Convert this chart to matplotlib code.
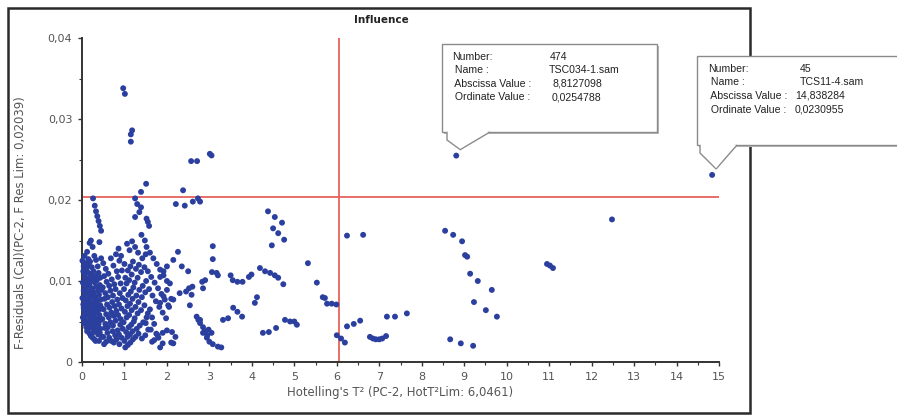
import matplotlib
matplotlib.use("Agg")
import matplotlib.pyplot as plt
from matplotlib.patches import Rectangle, Polygon
from matplotlib.ticker import MultipleLocator
import matplotlib.transforms as mtransforms

W, H = 897, 417

# ---------------- data ----------------
title = "Influence"
x_label = "Hotelling's T\u00b2 (PC-2, HotT\u00b2Lim: 6,0461)"
y_label = "F-Residuals (Cal)(PC-2, F Res Lim: 0,02039)"
hot_lim = 6.0461
fres_lim = 0.02039

# dense block near T2 = 0 .. 0.45
dense_left_x = [0.01, 0.03, 0.02, 0.04, 0.01, 0.03, 0.05, 0.02,
                0.06, 0.04, 0.07, 0.05, 0.08, 0.06, 0.04, 0.07, 0.05,
                0.09, 0.07, 0.10, 0.08, 0.06, 0.09, 0.11, 0.08, 0.10,
                0.12, 0.10, 0.13, 0.11, 0.14, 0.12, 0.10, 0.13, 0.11, 0.12,
                0.15, 0.13, 0.16, 0.14, 0.17, 0.15, 0.13, 0.16, 0.14,
                0.18, 0.16, 0.19, 0.17, 0.20, 0.18, 0.16, 0.19, 0.17, 0.18,
                0.21, 0.19, 0.22, 0.20, 0.23, 0.21, 0.19, 0.22, 0.20, 0.21,
                0.25, 0.23, 0.26, 0.24, 0.27, 0.25, 0.23, 0.26, 0.24, 0.25,
                0.29, 0.27, 0.30, 0.28, 0.31, 0.29, 0.27, 0.30, 0.28, 0.29,
                0.33, 0.31, 0.34, 0.32, 0.35, 0.33, 0.31, 0.34, 0.32,
                0.37, 0.35, 0.38, 0.36, 0.39, 0.37, 0.35, 0.38,
                0.41, 0.39, 0.42, 0.40, 0.43, 0.41, 0.39, 0.42, 0.40,
                0.45, 0.43, 0.46, 0.44, 0.47, 0.45, 0.43, 0.46]
dense_left_y = [0.0125, 0.0112, 0.0098, 0.0088, 0.0079, 0.0071, 0.0063, 0.0055,
                0.0131, 0.0118, 0.0104, 0.0094, 0.0085, 0.0076, 0.0067, 0.0059, 0.0048,
                0.0122, 0.0108, 0.0099, 0.0090, 0.0081, 0.0072, 0.0064, 0.0052, 0.0043,
                0.0136, 0.0115, 0.0102, 0.0093, 0.0084, 0.0075, 0.0068, 0.0058, 0.0046, 0.0038,
                0.0127, 0.0111, 0.0097, 0.0087, 0.0078, 0.0069, 0.0061, 0.0050, 0.0040,
                0.0147, 0.0119, 0.0105, 0.0095, 0.0083, 0.0074, 0.0066, 0.0056, 0.0045, 0.0035,
                0.0150, 0.0124, 0.0109, 0.0100, 0.0089, 0.0079, 0.0070, 0.0060, 0.0049, 0.0032,
                0.0142, 0.0117, 0.0103, 0.0091, 0.0082, 0.0072, 0.0063, 0.0053, 0.0042, 0.0030,
                0.0131, 0.0112, 0.0098, 0.0086, 0.0076, 0.0067, 0.0057, 0.0047, 0.0037, 0.0028,
                0.0126, 0.0106, 0.0093, 0.0080, 0.0070, 0.0061, 0.0051, 0.0040, 0.0026,
                0.0118, 0.0101, 0.0088, 0.0075, 0.0064, 0.0054, 0.0044, 0.0034,
                0.0148, 0.0110, 0.0095, 0.0083, 0.0070, 0.0058, 0.0047, 0.0036, 0.0026,
                0.0128, 0.0104, 0.0089, 0.0077, 0.0066, 0.0052, 0.0041, 0.0031]

# descending streak near the F-limit at the left
streak_left_x = [0.26, 0.30, 0.33, 0.36, 0.39, 0.42, 0.45]
streak_left_y = [0.0202, 0.0193, 0.0186, 0.0180, 0.0174, 0.0168, 0.0162]

# block T2 = 0.5 .. 0.95
mid_left_x = [0.50, 0.52, 0.49, 0.53, 0.51, 0.48, 0.54, 0.50, 0.52,
              0.56, 0.58, 0.55, 0.59, 0.57, 0.55, 0.60, 0.57,
              0.62, 0.64, 0.61, 0.65, 0.63, 0.61, 0.64,
              0.68, 0.70, 0.67, 0.71, 0.69, 0.67, 0.72, 0.69,
              0.74, 0.76, 0.73, 0.77, 0.75, 0.73, 0.78, 0.75,
              0.80, 0.82, 0.79, 0.83, 0.81, 0.79, 0.84, 0.81,
              0.86, 0.88, 0.85, 0.89, 0.87, 0.85, 0.90, 0.87, 0.88,
              0.92, 0.94, 0.91, 0.95, 0.93, 0.91, 0.96, 0.93]
mid_left_y = [0.0122, 0.0106, 0.0092, 0.0078, 0.0065, 0.0053, 0.0042, 0.0031, 0.0022,
              0.0115, 0.0099, 0.0085, 0.0071, 0.0059, 0.0047, 0.0036, 0.0025,
              0.0109, 0.0094, 0.0080, 0.0067, 0.0055, 0.0043, 0.0030,
              0.0128, 0.0102, 0.0088, 0.0074, 0.0061, 0.0049, 0.0038, 0.0026,
              0.0119, 0.0096, 0.0082, 0.0069, 0.0057, 0.0045, 0.0033, 0.0024,
              0.0133, 0.0112, 0.0090, 0.0077, 0.0063, 0.0051, 0.0039, 0.0028,
              0.0140, 0.0125, 0.0105, 0.0085, 0.0071, 0.0058, 0.0046, 0.0034, 0.0022,
              0.0131, 0.0113, 0.0097, 0.0079, 0.0066, 0.0053, 0.0041, 0.0030]

# block T2 = 1.0 .. 1.5
block_one_x = [1.00, 1.02, 0.99, 1.03, 1.01, 0.98, 1.04, 1.00, 1.02,
               1.06, 1.08, 1.05, 1.09, 1.07, 1.05, 1.10, 1.07, 1.08,
               1.12, 1.14, 1.11, 1.15, 1.13, 1.11, 1.16, 1.13, 1.14,
               1.18, 1.20, 1.17, 1.21, 1.19, 1.17, 1.22, 1.19, 1.20,
               1.25, 1.27, 1.24, 1.28, 1.26, 1.24, 1.29, 1.26,
               1.32, 1.34, 1.31, 1.35, 1.33, 1.31, 1.36, 1.33,
               1.40, 1.42, 1.39, 1.43, 1.41, 1.39, 1.44, 1.41,
               1.48, 1.50, 1.47, 1.51, 1.49, 1.47, 1.52, 1.49]
block_one_y = [0.0121, 0.0104, 0.0090, 0.0076, 0.0062, 0.0049, 0.0037, 0.0026, 0.0018,
               0.0146, 0.0113, 0.0097, 0.0083, 0.0069, 0.0055, 0.0043, 0.0031, 0.0021,
               0.0138, 0.0118, 0.0101, 0.0087, 0.0072, 0.0058, 0.0046, 0.0034, 0.0024,
               0.0149, 0.0124, 0.0108, 0.0092, 0.0078, 0.0064, 0.0050, 0.0038, 0.0028,
               0.0142, 0.0115, 0.0098, 0.0082, 0.0068, 0.0054, 0.0041, 0.0031,
               0.0135, 0.0120, 0.0104, 0.0089, 0.0074, 0.0060, 0.0045, 0.0035,
               0.0157, 0.0128, 0.0111, 0.0094, 0.0080, 0.0064, 0.0049, 0.0029,
               0.0150, 0.0133, 0.0117, 0.0100, 0.0086, 0.0070, 0.0055, 0.0033]

# points close to the F-limit around T2 = 1.2 .. 1.6
near_limit_x = [1.25, 1.30, 1.35, 1.39, 1.51, 1.39, 1.25, 1.52, 1.55, 1.58]
near_limit_y = [0.0202, 0.0195, 0.0185, 0.0210, 0.0220, 0.0191, 0.0179, 0.0177, 0.0173, 0.0168]

# diagonal streaks T2 = 1.5 .. 2.7
streaks_x = [1.52, 1.60, 1.68, 1.76, 1.84, 1.92, 2.00,
             1.55, 1.63, 1.71, 1.79, 1.87, 1.95, 2.03,
             1.58, 1.66, 1.74, 1.82, 1.90, 1.98,
             1.60, 1.65, 1.70, 1.62, 1.75, 1.70, 1.80, 1.65, 1.78, 1.55, 1.50, 1.56,
             2.15, 2.26, 2.00, 1.92, 1.84, 2.07, 2.00, 1.92, 1.84, 2.10,
             2.30, 2.45, 2.60, 2.52, 2.15, 2.05, 2.35, 2.50,
             1.90, 2.00, 2.12, 2.20, 2.15, 2.10, 1.90, 1.84]
streaks_y = [0.0142, 0.0135, 0.0128, 0.0121, 0.0114, 0.0107, 0.0100,
             0.0112, 0.0105, 0.0098, 0.0091, 0.0084, 0.0077, 0.0070,
             0.0090, 0.0082, 0.0075, 0.0068, 0.0061, 0.0054,
             0.0065, 0.0055, 0.0047, 0.0040, 0.0035, 0.0027, 0.0030, 0.0025, 0.0033, 0.0060, 0.0048, 0.0040,
             0.0126, 0.0136, 0.0118, 0.0112, 0.0105, 0.0097, 0.0089, 0.0081, 0.0073, 0.0078,
             0.0085, 0.0087, 0.0093, 0.0091, 0.0077, 0.0068, 0.0118, 0.0112,
             0.0036, 0.0039, 0.0037, 0.0031, 0.0023, 0.0024, 0.0023, 0.0018]

# T2 = 2.5 .. 5.1
middle_x = [2.54, 2.58, 2.70, 2.74, 2.78, 2.83, 2.90, 2.85,
            2.78, 2.85, 2.90, 2.98, 3.05, 2.95,
            2.85, 2.94, 3.00, 3.08, 3.20, 3.28,
            3.08, 3.08, 3.17, 3.06, 3.20,
            3.32, 3.44, 3.56, 3.66, 3.77,
            3.50, 3.55, 3.66, 3.78, 3.93, 3.99,
            4.19, 4.31, 4.43, 4.54, 4.62, 4.74,
            4.12, 4.07, 4.26, 4.40, 4.57,
            4.78, 4.90, 5.00, 5.06,
            4.38, 4.54, 4.71, 4.50, 4.62, 4.76, 4.47]
middle_y = [0.0070, 0.0083, 0.0056, 0.0052, 0.0048, 0.0099, 0.0101, 0.0091,
            0.0052, 0.0043, 0.0038, 0.0040, 0.0036, 0.0033,
            0.0036, 0.0030, 0.0025, 0.0022, 0.0019, 0.0018,
            0.0143, 0.0127, 0.0110, 0.0111, 0.0107,
            0.0052, 0.0054, 0.0067, 0.0062, 0.0056,
            0.0107, 0.0101, 0.0099, 0.0099, 0.0105, 0.0108,
            0.0116, 0.0112, 0.0110, 0.0107, 0.0104, 0.0096,
            0.0080, 0.0073, 0.0036, 0.0037, 0.0042,
            0.0052, 0.0050, 0.0050, 0.0046,
            0.0186, 0.0179, 0.0172, 0.0165, 0.0159, 0.0151, 0.0144]

# T2 = 5.3 .. 12.5
right_x = [5.32, 5.53, 5.67, 5.72, 5.77, 5.88, 5.99,
           6.00, 6.10, 6.19, 6.24, 6.62, 6.24, 6.40, 6.55,
           6.78, 6.85, 6.92, 7.00, 7.07, 7.16, 7.18, 7.37, 7.65,
           8.55, 8.74, 8.95, 9.02, 9.07, 9.14, 9.32, 9.65, 9.23, 9.51, 9.77,
           8.67, 8.92, 9.21, 10.95, 11.02, 11.09, 12.48]
right_y = [0.0122, 0.0098, 0.0080, 0.0079, 0.0072, 0.0072, 0.0071,
           0.0033, 0.0029, 0.0024, 0.0156, 0.0157, 0.0044, 0.0047, 0.0051,
           0.0031, 0.0029, 0.0028, 0.0028, 0.0029, 0.0032, 0.0056, 0.0056, 0.0060,
           0.0162, 0.0157, 0.0149, 0.0132, 0.0130, 0.0109, 0.0100, 0.0089, 0.0074, 0.0064, 0.0056,
           0.0028, 0.0023, 0.0020, 0.0121, 0.0119, 0.0116, 0.0176]

# points above the F-limit (left part)
upper_x = [0.97, 1.01, 1.18, 1.15, 1.15, 2.57, 2.71, 3.01, 3.05,
           2.78, 2.21, 2.38, 2.42, 2.61, 2.73]
upper_y = [0.0338, 0.0331, 0.0286, 0.0281, 0.0272, 0.0248, 0.0248, 0.0257, 0.0255,
           0.0198, 0.0195, 0.0212, 0.0193, 0.0198, 0.0202]

# highlighted samples with tooltips
tip_numbers = ["474", "45"]
tip_names = ["TSC034-1.sam", "TCS11-4.sam"]
tip_x = [8.8127098, 14.838284]
tip_y = [0.0254788, 0.0230955]
tip_x_text = ["8,8127098", "14,838284"]
tip_y_text = ["0,0254788", "0,0230955"]

x_ticks = list(range(0, 16))
y_ticks = [0, 0.01, 0.02, 0.03, 0.04]
y_tick_labels = ["0", "0,01", "0,02", "0,03", "0,04"]

# ---------------- figure ----------------
fig = plt.figure(figsize=(W / 100, H / 100), dpi=100)
fig.patch.set_facecolor("white")
px = mtransforms.Affine2D().scale(1 / W, -1 / H).translate(0, 1) + fig.transFigure

# window frame
fig.add_artist(Rectangle((8, 8), 742, 405, transform=px, fill=False,
                         edgecolor="#2a2a2a", linewidth=1.8, zorder=1))

ax = fig.add_axes([82 / W, 1 - 362 / H, (719 - 82) / W, (362 - 38) / H])
ax.set_xlim(0, 15)
ax.set_ylim(0, 0.04)
for s in ("top", "right"):
    ax.spines[s].set_visible(False)
for s in ("left", "bottom"):
    ax.spines[s].set_color("#333333")
    ax.spines[s].set_linewidth(1.4)

ax.set_xticks(x_ticks)
ax.set_yticks(y_ticks)
ax.set_yticklabels(y_tick_labels)
ax.xaxis.set_minor_locator(MultipleLocator(0.5))
ax.yaxis.set_minor_locator(MultipleLocator(0.005))
ax.tick_params(which="major", direction="out", length=3, width=1, color="#333333",
               labelsize=8, labelcolor="#555555", pad=4)
ax.tick_params(which="minor", direction="out", length=2, width=0.8, color="#333333")

ax.axvline(hot_lim, color="#e8625c", linewidth=1.3, zorder=2)
ax.axhline(fres_lim, color="#e8625c", linewidth=1.3, zorder=2)

all_x = (dense_left_x + streak_left_x + mid_left_x + block_one_x + near_limit_x +
         streaks_x + middle_x + right_x + upper_x + tip_x)
all_y = (dense_left_y + streak_left_y + mid_left_y + block_one_y + near_limit_y +
         streaks_y + middle_y + right_y + upper_y + tip_y)
ax.scatter(all_x, all_y, s=18, color="#2b3f9e", edgecolors="none", zorder=3, clip_on=False)

ax.set_xlabel(x_label, fontsize=8.4, color="#555555", labelpad=3)
ax.set_ylabel(y_label, fontsize=8.4, color="#555555")
ax.yaxis.set_label_coords(-0.086, 0.43)

fig.text(381 / W, 1 - 20 / H, title, fontsize=7.5, fontweight="bold",
         ha="center", va="center", color="#222222")

# ---------------- tooltips ----------------
TIP_FONT = ["Liberation Sans", "DejaVu Sans"]


def tooltip(box, tail_base, i, label_x, value_x, row_y):
    x0, y0, x1, y1 = box
    tipx, tipy = ax.transData.transform((tip_x[i], tip_y[i]))
    tipy = H - tipy
    fig.add_artist(Rectangle((x0 + 2, y0 + 2), x1 - x0, y1 - y0, transform=px,
                             facecolor="#b8b8b8", edgecolor="none", zorder=5))
    fig.add_artist(Rectangle((x0, y0), x1 - x0, y1 - y0, transform=px,
                             facecolor="white", edgecolor="#8a8a8a", linewidth=1.0, zorder=6))
    a, b = tail_base
    fig.add_artist(Polygon([(a, y1), (a, y1 + 8), (tipx + 4, tipy - 6), (b, y1)], closed=False,
                           transform=px, facecolor="white", edgecolor="#8a8a8a",
                           linewidth=1.0, zorder=6))
    fig.add_artist(Polygon([(a + 1, y1 - 1), (a + 1, y1 + 7), (tipx + 4, tipy - 7), (b - 2, y1 - 1)],
                           transform=px, facecolor="white", edgecolor="none", zorder=6.5))
    labels = ["Number:", " Name :", " Abscissa Value :", " Ordinate Value :"]
    values = [tip_numbers[i], tip_names[i], tip_x_text[i], tip_y_text[i]]
    for k in range(4):
        fig.text(label_x / W, 1 - row_y[k] / H, labels[k],
                 fontsize=7.6, color="#222222", va="center", ha="left", zorder=7,
                 family=TIP_FONT)
        fig.text(value_x[k] / W, 1 - row_y[k] / H, values[k], fontsize=7.6, color="#222222",
                 va="center", ha="left", zorder=7, family=TIP_FONT)


tooltip((442, 44, 657, 132), (447, 490), 0, 452,
        [550, 549, 552, 552], [57, 70, 84, 97])
tooltip((697, 56, 905, 145), (700, 737), 1, 708,
        [800, 800, 795, 795], [69, 82, 96, 110])

fig.savefig("out.png", dpi=100, facecolor="white")
